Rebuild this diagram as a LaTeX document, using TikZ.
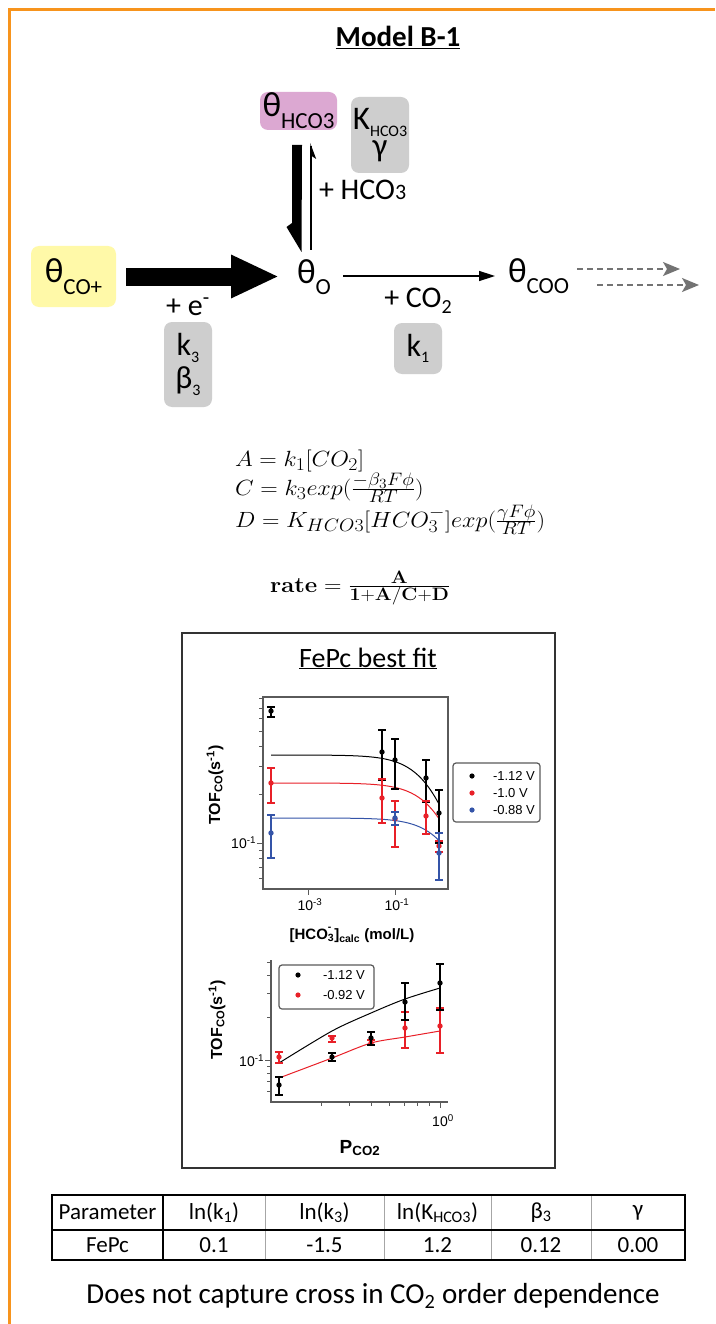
\documentclass[tikz,border=0pt]{standalone}
\usepackage{fix-cm}
\usepackage[no-math]{fontspec}
\setmainfont{Carlito}
\newfontfamily\arialf{Liberation Sans}
\usetikzlibrary{arrows.meta,calc}
\DeclareMathSizes{22}{22}{18}{14}
\definecolor{orng}{RGB}{247,148,29}
\definecolor{yelb}{RGB}{255,249,168}
\definecolor{pinkb}{RGB}{220,168,210}
\definecolor{greyb}{RGB}{206,206,206}
\definecolor{dgrey}{RGB}{115,115,115}
\definecolor{pred}{RGB}{232,32,40}
\definecolor{pblue}{RGB}{52,84,168}
\definecolor{axgrey}{RGB}{90,90,90}
\newcommand\fsz[1]{\fontsize{#1}{#1}\selectfont}
\newcommand\bigsub[1]{\raisebox{-0.34em}{\fontsize{23}{23}\selectfont #1}}
\newcommand\smsub[1]{\raisebox{-0.2em}{\fontsize{16}{16}\selectfont #1}}
\newcommand\eqx[1]{\scalebox{1.1}[1]{$#1$}}
\begin{document}
\begin{tikzpicture}[x=1pt,y=-1pt,
  every node/.style={inner sep=0pt,outer sep=0pt},
  rbox/.style={rounded corners=8pt},
  ybox/.style={rbox,fill=yelb,font=\fsz{35}},
  pbox/.style={rbox,fill=pinkb,font=\fsz{35}},
  gbox/.style={rbox,fill=greyb,align=center},
  spec/.style={font=\fsz{35}},
  lab/.style={font=\fsz{30}},
  eq/.style={anchor=base west,font=\fsz{22}},
  bigarrow/.style={line width=18pt,-{Triangle[length=48pt,width=40pt]}},
  thinarrow/.style={line width=1.5pt,-{Triangle[length=16pt,width=10pt]}},
  dasharrow/.style={dgrey,line width=1.5pt,dash pattern=on 6pt off 4pt,-{Stealth[length=17pt,width=14pt,inset=4pt]}},
  axis/.style={axgrey,line width=1.3pt},
  tick/.style={axgrey,line width=1pt},
  ticklab/.style={font=\arialf\fsz{14}},
  axlab/.style={font=\arialf\bfseries\fsz{16}},
  legtxt/.style={anchor=west,font=\arialf\fsz{13}},
  fitline/.style={line width=1pt},
  ebar/.style={line width=1.2pt},
  cell/.style={font=\fsz{23}}
]
\useasboundingbox (0,0) rectangle (715,1324);
\fill[white] (0,0) rectangle (715,1324);
\draw[orng,line width=3pt] (9.5,1324) -- (9.5,10) -- (715,10);

% title
\node[font=\bfseries\fsz{29},anchor=base] (title) at (398,47) {\underline{Model B-1}};

% species
\node[ybox,minimum width=85pt,minimum height=61pt] (cop) at (73.5,276.5) {θ\bigsub{CO+}};
\node[pbox,minimum width=77pt,minimum height=38pt] (hco) at (298.5,111) {θ\bigsub{HCO3}};
\node[gbox,minimum width=58pt,minimum height=76pt,font=\fontsize{33}{22}\selectfont] (kh) at (380,135) {K\smsub{HCO3}\\[3pt]γ};
\node[gbox,minimum width=48pt,minimum height=85pt,font=\fontsize{32}{33}\selectfont] (kb) at (188,364.5) {k\smsub{3}\\β\smsub{3}};
\node[gbox,minimum width=48pt,minimum height=51pt,font=\fsz{32}] (kone) at (418,348.5) {k\smsub{1}};
\node[spec,anchor=base west] (th0) at (297,283) {θ\bigsub{O}};
\node[spec,anchor=base west] (tcoo) at (508,282) {θ\bigsub{COO}};

% labels
\node[lab,anchor=base west] (lhco) at (319,200) {+ HCO{\fsz{22}3}};
\node[lab,anchor=base] (le) at (188,315) {+ e\textsuperscript{-}};
\node[lab,anchor=base] (lco) at (418,307) {+ CO\raisebox{-0.2em}{\fsz{20}2}};

% arrows
\draw[bigarrow] ([xshift=10pt]cop.east) -- ([xshift=-18pt]cop.east -| th0.west);
\coordinate (hdn) at (297,145);
\fill[shift={(hdn)}] (-5,0) -- (5,0) -- (4.5,107) -- (-10.5,82) -- (-5,78) -- cycle;
\coordinate (hup) at (311,250);
\draw[line width=1.3pt] (hup) -- ++(0,-104);
\fill[shift={(hup)}] (-0.8,-107) -- (5.2,-91) -- (0.6,-94) -- cycle;
\coordinate (a1) at (343,276);
\coordinate (a2) at (495,276);
\draw[thinarrow] (a1) -- (a2);
\coordinate (d1) at (577,269);
\coordinate (d2) at (680,269);
\coordinate (d3) at (597,285);
\coordinate (d4) at (699,285);
\draw[dasharrow] (d1) -- (d2);
\draw[dasharrow] (d3) -- (d4);

% equations
\node[eq] (eqA) at (235,466) {\eqx{A = k_1[CO_2]}};
\node[eq] (eqC) at (235,495) {\eqx{C = k_3exp\bigl(\frac{-\beta_3F\phi}{RT}\bigr)}};
\node[eq] (eqD) at (235,527) {\eqx{D = K_{HCO3}[HCO_3^-]exp\bigl(\frac{\gamma F\phi}{RT}\bigr)}};
\node[eq] (eqR) at (270,592) {\eqx{\mathbf{rate} = \frac{\mathbf{A}}{\mathbf{1+A/C+D}}}};

% plot frame
\draw[line width=2pt,black!80] (182,633) rectangle (555,1168);
\node[font=\fsz{28},anchor=base] (ftitle) at (368,667) {\underline{FePc best fit}};

% ---- plot 1
\draw[axis] (263,697) rectangle (448,889);
\foreach \t in {698.5,708,718.5,731.2,746.7,766.7,794.8,850.3,858.5,867.8,878.5}
  \draw[tick] (263,\t) -- (259,\t);
\draw[tick] (263,843) -- (257,843);
\draw[tick] (308,889) -- (308,895);
\draw[tick] (395,889) -- (395,895);
\node[ticklab,anchor=east] (p1y) at (256,843) {10\textsuperscript{-1}};
\node[ticklab] (p1xa) at (310,905) {10\textsuperscript{-3}};
\node[ticklab] (p1xb) at (397,905) {10\textsuperscript{-1}};
\node[axlab,rotate=90] (p1yl) at (215,785) {TOF\textsubscript{CO}(s\textsuperscript{-1})};
\node[axlab,font=\arialf\bfseries\fsz{15}] (p1xl) at (352,935) {[HCO\rlap{\raisebox{0.25em}{\textsuperscript{-}}}\textsubscript{3}]\textsubscript{calc} (mol/L)};
% fits
\draw[fitline,black] plot[domain=271:439,samples=50,smooth] (\x,{755+160*log10(1+1.0*pow(10,(\x-395)/43.5-1))});
\draw[fitline,pred] plot[domain=271:439,samples=50,smooth] (\x,{783+160*log10(1+0.655*pow(10,(\x-395)/43.5-1))});
\draw[fitline,pblue] plot[domain=271:439,samples=50,smooth] (\x,{818+160*log10(1+0.373*pow(10,(\x-395)/43.5-1))});
% data
\foreach \c/\pts in {black/{271/711/707/717,382/752/730/780,395/760/739/789,426/778/760/802,439/813/790/843},
                     pred/{271/783/768/803,382/798/779/823,395/819/801/847,426/816/801/834,439/846/841/852},
                     pblue/{271/833/815/858,395/818/812/825,439/853/833/880}}{
  \foreach \px/\py/\lo/\hi in \pts {
    \draw[ebar,\c] (\px,\lo) -- (\px,\hi) (\px-4,\lo) -- (\px+4,\lo) (\px-4,\hi) -- (\px+4,\hi);
    \fill[\c] (\px,\py) circle (2.7);
  }
}
% legend 1
\draw[axgrey,line width=1.2pt,rounded corners=3pt] (453,763) rectangle (540,822);
\fill[black] (472,776) circle (2.6);
\fill[pred] (472,793) circle (2.6);
\fill[pblue] (472,810) circle (2.6);
\node[legtxt] (l1a) at (493,776) {-1.12 V};
\node[legtxt] (l1b) at (493,793) {-1.0 V};
\node[legtxt] (l1c) at (493,810) {-0.88 V};

% ---- plot 2
\draw[axis] (271,960) -- (271,1102) -- (448,1102);
\foreach \t in {962.1,975.7,993.2,1017.9,1066.4,1073.6,1081.7,1091.1}
  \draw[tick] (271,\t) -- (267,\t);
\draw[tick] (271,1060) -- (265,1060);
\foreach \t in {321,349.6,371.5,389.4,404.5,417.6,429.2}
  \draw[tick] (\t,1102) -- (\t,1106);
\draw[tick] (440,1102) -- (440,1108);
\node[ticklab,anchor=east] (p2y) at (264,1061) {10\textsuperscript{-1}};
\node[ticklab] (p2x) at (443,1121) {10\textsuperscript{0}};
\node[axlab,rotate=90] (p2yl) at (217,1020) {TOF\textsubscript{CO}(s\textsuperscript{-1})};
\node[axlab,font=\arialf\bfseries\fsz{19}] (p2xl) at (360,1148) {P\textsubscript{CO2}};
\draw[fitline,black] plot[smooth] coordinates {(279,1063) (332,1031) (371,1013) (405,999) (440,988)};
\draw[fitline,pred] plot[smooth] coordinates {(279,1078) (332,1058) (371,1043) (405,1037) (440,1031)};
\foreach \c/\pts in {pred/{279/1057/1052/1063,332/1038/1036/1042,371/1043/1040/1045,405/1028/1012/1048,440/1026/1008/1053},
                     black/{279/1085/1077/1095,332/1057/1053/1061,371/1038/1032/1045,405/1002/983/1020,440/983/964/1010}}{
  \foreach \px/\py/\lo/\hi in \pts {
    \draw[ebar,\c] (\px,\lo) -- (\px,\hi) (\px-4,\lo) -- (\px+4,\lo) (\px-4,\hi) -- (\px+4,\hi);
    \fill[\c] (\px,\py) circle (2.7);
  }
}
% legend 2
\draw[axgrey,line width=1.2pt,rounded corners=3pt] (279,965) rectangle (374,1009);
\fill[black] (298,975) circle (2.6);
\fill[pred] (298,995) circle (2.6);
\node[legtxt] (l2a) at (323,975) {-1.12 V};
\node[legtxt] (l2b) at (323,995) {-0.92 V};

% ---- table
\draw[black!35,line width=1pt] (265,1195) -- (265,1260) (384,1195) -- (384,1260) (491,1195) -- (491,1260) (591,1195) -- (591,1260);
\draw[line width=1.6pt] (52,1195) rectangle (685,1260);
\draw[line width=1.6pt] (52,1230) -- (685,1230);
\draw[line width=1.8pt] (163,1195) -- (163,1260);
\node[cell] (h1) at (107.5,1212.5) {Parameter};
\node[cell] (h2) at (214,1212.5) {ln(k\textsubscript{1})};
\node[cell] (h3) at (324.5,1212.5) {ln(k\textsubscript{3})};
\node[cell] (h4) at (437.5,1212.5) {ln(K\textsubscript{HCO3})};
\node[cell] (h5) at (541,1212.5) {β\textsubscript{3}};
\node[cell] (h6) at (638,1212.5) {γ};
\node[cell] (r1) at (107.5,1245) {FePc};
\node[cell] (r2) at (214,1245) {0.1};
\node[cell] (r3) at (324.5,1245) {-1.5};
\node[cell] (r4) at (437.5,1245) {1.2};
\node[cell] (r5) at (541,1245) {0.12};
\node[cell] (r6) at (638,1245) {0.00};

\node[font=\fsz{29}] (note) at (373,1296) {Does not capture cross in CO\textsubscript{2} order dependence};
\end{tikzpicture}
\end{document}
